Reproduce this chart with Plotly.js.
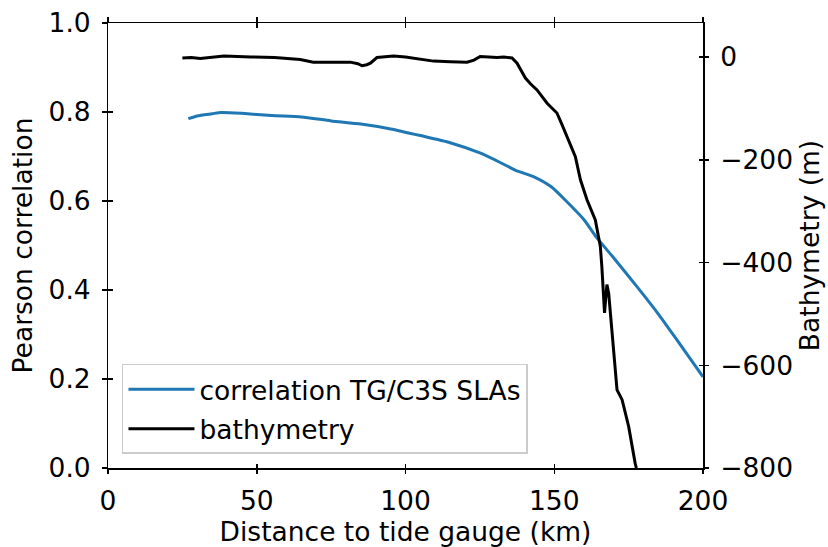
<!DOCTYPE html>
<html>
<head>
<meta charset="utf-8">
<script src="https://cdn.plot.ly/plotly-3.0.1.min.js"></script>
<style>html,body{margin:0;padding:0;background:#fff;} #chart{width:828px;height:547px;}</style>
</head>
<body>
<div id="chart"></div>
<script>
// Correlation TG/C3S SLAs vs distance (km)
const corrDist = [27, 30, 35, 38, 45, 55, 65, 75, 85, 95, 105, 115, 125, 132, 137, 143, 149, 154, 160, 164, 170, 178, 185, 191, 200];
const corrVals = [0.785, 0.791, 0.796, 0.799, 0.797, 0.792, 0.789, 0.780, 0.773, 0.762, 0.747, 0.731, 0.708, 0.686, 0.669, 0.655, 0.632, 0.600, 0.558, 0.520, 0.472, 0.406, 0.346, 0.290, 0.205];

// Bathymetry (m) vs distance (km)
const bathyDist = [25, 28, 31, 35, 39, 48, 56, 64.6, 69, 75, 81.4, 84, 85.4, 87, 88.2, 90.4, 93, 96, 100, 105, 109.4, 115, 120.7, 123, 125.1, 128, 130.8, 133, 135.8, 137.5, 140.3, 142, 144.2, 147.6, 150.9, 152.5, 154.3, 157.1, 158.8, 161, 163.8, 164.9, 165.5, 166, 166.6, 166.9, 167.3, 167.7, 168.3, 169.4, 171.1, 172.8, 175, 177.2, 177.6];
const bathyVals = [-2, -1, -3, 0, 2, 0, -1, -5, -10, -10, -10, -13, -17, -15, -12, -1, 1, 2, 0, -4, -8, -9, -10, -6, 1, 0, -1, 0, -2, -12, -41, -52, -64, -90, -109, -130, -155, -194, -239, -278, -317, -356, -369, -408, -460, -498, -470, -443, -460, -537, -648, -667, -719, -791, -800];

// Axis ticks
const xTicks = [0, 50, 100, 150, 200];
const yTicks = [0, 0.2, 0.4, 0.6, 0.8, 1.0];
const y2Ticks = [-800, -600, -400, -200, 0];

const FONT = 'DejaVu Sans, sans-serif';
const FS = 26.5;
const TL = 4.5;

const traces = [
  {x: corrDist, y: corrVals, type: 'scatter', mode: 'lines', name: 'correlation TG/C3S SLAs',
   line: {color: '#1f77b4', width: 3, shape: 'spline', smoothing: 0.6}, xaxis: 'x', yaxis: 'y', legendgroup: 'a', hoverinfo: 'skip'},
  {x: bathyDist, y: bathyVals, type: 'scatter', mode: 'lines', name: 'bathymetry',
   line: {color: '#000000', width: 3}, xaxis: 'x2', yaxis: 'y2', legendgroup: 'b', hoverinfo: 'skip'},
  {x: [], y: [], type: 'scatter', mode: 'lines', xaxis: 'x', yaxis: 'y3', showlegend: false, hoverinfo: 'skip'},
  {x: [], y: [], type: 'scatter', mode: 'lines', xaxis: 'x', yaxis: 'y4', showlegend: false, hoverinfo: 'skip'}
];

const common = {showgrid: false, zeroline: false, linecolor: '#000', linewidth: 1.5,
  tickcolor: '#000', tickwidth: 1.5, ticklen: TL, tickfont: {family: FONT, size: FS, color: '#000'}};

const layout = {
  width: 828, height: 547,
  margin: {l: 108, r: 125, t: 23, b: 79, pad: 0},
  paper_bgcolor: '#fff', plot_bgcolor: '#fff',
  font: {family: FONT, size: FS, color: '#000'},
  showlegend: true,
  xaxis: Object.assign({}, common, {range: [0, 200], tickvals: xTicks, ticks: 'outside', mirror: 'ticks', showline: true,
    ticklabelstandoff: 4,
    title: {text: 'Distance to tide gauge (km)', font: {family: FONT, size: FS, color: '#000'}, standoff: 6}}),
  xaxis2: Object.assign({}, common, {range: [0, 200], tickvals: xTicks, ticks: 'inside', mirror: 'ticks', showline: false,
    overlaying: 'x', anchor: 'y2', side: 'bottom', showticklabels: false}),
  yaxis: Object.assign({}, common, {range: [0, 1], tickvals: yTicks, tickformat: '.1f', ticks: 'outside', showline: true,
    mirror: false, ticklabelstandoff: 6,
    title: {text: 'Pearson correlation', font: {family: FONT, size: FS, color: '#000'}, standoff: 8}}),
  yaxis2: Object.assign({}, common, {range: [-800, 66.2], tickvals: y2Ticks, ticks: 'outside', showline: true,
    overlaying: 'y', side: 'right', anchor: 'x2', ticklabelstandoff: 6,
    title: {text: 'Bathymetry (m)', font: {family: FONT, size: FS, color: '#000'}, standoff: 8}}),
  yaxis3: Object.assign({}, common, {range: [0, 1], tickvals: yTicks, ticks: 'inside', showline: false,
    overlaying: 'y', side: 'left', showticklabels: false}),
  yaxis4: Object.assign({}, common, {range: [-800, 66.2], tickvals: y2Ticks, ticks: 'inside', showline: false,
    overlaying: 'y', side: 'right', showticklabels: false}),
  legend: {x: 0.0235, y: 0.0315, xanchor: 'left', yanchor: 'bottom',
    bgcolor: 'rgba(255,255,255,0.8)', bordercolor: '#cccccc', borderwidth: 1.5,
    font: {family: FONT, size: FS, color: '#000'}, traceorder: 'grouped', tracegroupgap: 2, itemwidth: 66}
};

Plotly.newPlot('chart', traces, layout, {staticPlot: true, displayModeBar: false});
</script>
</body>
</html>
